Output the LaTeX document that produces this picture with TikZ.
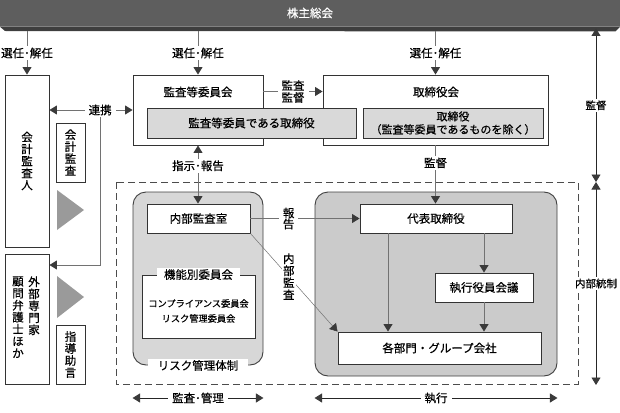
\documentclass[tikz,border=0pt]{standalone}
\usepackage{fontspec}
\setmainfont{Noto Sans CJK JP}[FakeBold=0.5]
\usepackage{tikz}
\usetikzlibrary{positioning,arrows.meta,calc}
\definecolor{banner}{HTML}{5E5E5E}
\definecolor{bannerdark}{HTML}{3E3E3E}
\definecolor{linegray}{HTML}{727272}
\definecolor{tipgray}{HTML}{3A3A3A}
\definecolor{boxgray}{HTML}{D9D9D9}
\definecolor{leftgray}{HTML}{D7D7D7}
\definecolor{rightgray}{HTML}{CBCBCB}
\definecolor{trigray}{HTML}{9A9A9A}
\tikzset{
  org/.style={>={Triangle[width=9pt,length=7.5pt,color=tipgray]},
    x=1pt, y=-1pt,
    font=\fontsize{11.5}{12}\selectfont,
    line width=0.9pt},
  orgbox/.style={rectangle,draw=black!80,fill=white,inner sep=0pt,align=center},
  greybox/.style={orgbox,fill=boxgray},
  zone/.style={rectangle,rounded corners=13pt,draw=black!75,inner sep=0pt},
  conn/.style={draw=linegray},
  axis/.style={draw=black!85},
  lbl/.style={fill=white,inner xsep=4pt,inner ysep=1.5pt,align=center},
  tate/.style={align=center,inner sep=0pt},
  smalltext/.style={font=\fontsize{9.2}{15}\selectfont,align=center}
}
\begin{document}
\begin{tikzpicture}[org]
\useasboundingbox (0,0) rectangle (620,412);
\node[fill=banner,text=white,minimum width=620pt,minimum height=26pt,inner sep=0pt] (kabunushi) at (310,13) {株主総会};
\fill[bannerdark] (kabunushi.south west) -- (kabunushi.south east) -- ++(-5,5) -- (5,31) -- cycle;

\node[zone,fill=leftgray,minimum width=130pt,minimum height=173pt] (risk) at (198,278.5) {};
\node[zone,fill=rightgray,minimum width=242pt,minimum height=184pt] (exec) at (436,284) {};
\draw[draw=black!70,dash pattern=on 7pt off 4pt] (116,182) rectangle (578,384);

\node[orgbox,minimum width=44pt,minimum height=172pt] (kaikei) at (27,161) {会\\計\\監\\査\\人};
\node[orgbox,minimum width=29pt,minimum height=59pt] (kansa) at (70.5,152.5) {会\\計\\監\\査};
\fill[trigray] (57,190) -- (84,210) -- (57,230) -- cycle;
\node[orgbox,minimum width=44pt,minimum height=130pt] (gaibu) at (27,319) {};
\node[tate,anchor=north] (gaibuA) at (34,276) {外\\部\\専\\門\\家};
\node[tate,anchor=north] (gaibuB) at (18,276) {顧\\問\\弁\\護\\士\\ほ\\か};
\fill[trigray] (57,276) -- (84,297) -- (57,318) -- cycle;
\node[orgbox,minimum width=29pt,minimum height=59pt] (shidou) at (70.5,354.5) {指\\導\\助\\言};

\node[orgbox,minimum width=130pt,minimum height=70pt] (kansaIin) at (198,110) {};
\node (kansaIinT) at (198,92) {監査等委員会};
\node[orgbox,minimum width=225pt,minimum height=70pt] (torikai) at (435.5,110) {};
\node (torikaiT) at (436,92) {取締役会};
\node[greybox,minimum width=209pt,minimum height=30pt] (kansaTori) at (251.5,123) {監査等委員である取締役};
\node[greybox,minimum width=180pt,minimum height=30pt,font=\fontsize{11}{13}\selectfont] (tori) at (453,123) {取締役\\（監査等委員であるものを除く）};

\node[orgbox,minimum width=103pt,minimum height=29pt] (naibu) at (198.5,218.5) {内部監査室};
\node[orgbox,minimum width=113pt,minimum height=63pt] (kinou) at (198.5,306.5) {};
\node[lbl,inner xsep=7pt] (kinouT) at (kinou.north) {機能別委員会};
\node[smalltext] (iinkai) at (198.5,311) {コンプライアンス委員会\\リスク管理委員会};
\node[lbl,inner xsep=10pt] (riskT) at (risk.south) {リスク管理体制};

\node[orgbox,minimum width=152pt,minimum height=29pt] (daihyo) at (436,218.5) {代表取締役};
\node[orgbox,minimum width=98pt,minimum height=29pt] (shikkou) at (484,287.5) {執行役員会議};
\node[orgbox,minimum width=203pt,minimum height=32pt] (kakubu) at (439.5,348) {各部門・グループ会社};

\draw[conn,->] ([yshift=-5pt]kabunushi.south -| kaikei) -- node[lbl] (sennin1) {選任･解任} (kaikei);
\draw[conn,->] ([yshift=-5pt]kabunushi.south -| kansaIin) -- node[lbl] (sennin2) {選任･解任} (kansaIin);
\draw[conn,->] ([yshift=-5pt]kabunushi.south -| torikai) -- node[lbl] (sennin3) {選任･解任} (torikai);
\draw[conn,->] ([yshift=18.5pt]kansaIin.east) -- node[lbl] (kansaKantoku) {監査\\監督} ([yshift=18.5pt]torikai.west);
\draw[conn,<->] (kaikei.east |- kansaIin.west) -- node[lbl,pos=0.61] (renkei) {連携} (kansaIin.west);
\draw[conn,->] (renkei.south) |- ([yshift=54pt]gaibu.east);
\draw[conn,<->] (kansaIin.south) -- node[lbl,pos=0.35] (shiji) {指示･報告} (kansaIin.south |- naibu.north);
\draw[conn,->] (torikai.south) -- node[lbl,pos=0.3] (kantoku) {監督} (torikai.south |- daihyo.north);
\draw[conn,->] (naibu.east) -- node[lbl,pos=0.35,font=\fontsize{11.5}{11}\selectfont] (houkoku) {報\\告} (daihyo.west);
\draw[conn,line width=0.5pt,->] (naibu.south east) -- node[lbl,pos=0.44,inner xsep=1pt] (naibuKansa) {内\\部\\監\\査} (kakubu.north west);
\draw[conn,->] ([xshift=-48pt]daihyo.south) -- ([xshift=-48pt]daihyo.south |- kakubu.north);
\draw[conn,->] (shikkou.north |- daihyo.south) -- (shikkou);
\draw[conn,->] (shikkou) -- (shikkou.south |- kakubu.north);

\coordinate (axMid) at (596,182);
\coordinate (axBot) at (596,385);
\coordinate (axBottom) at (0,398);
\draw[axis,<->] ([yshift=-2pt]kabunushi.south -| axMid) -- node[lbl,font=\fontsize{10.5}{12}\selectfont] (kantokuAx) {監督} (axMid);
\draw[axis,<->] (axMid) -- node[lbl,font=\fontsize{10.5}{12}\selectfont] (naibuTousei) {内部統制} (axBot);
\draw[axis,<->] (risk.west |- axBottom) -- node[lbl] (kanri) {監査･管理} (risk.east |- axBottom);
\draw[axis,<->] (exec.west |- axBottom) -- node[lbl] (shikkouAx) {執行} (exec.east |- axBottom);
\end{tikzpicture}
\end{document}
